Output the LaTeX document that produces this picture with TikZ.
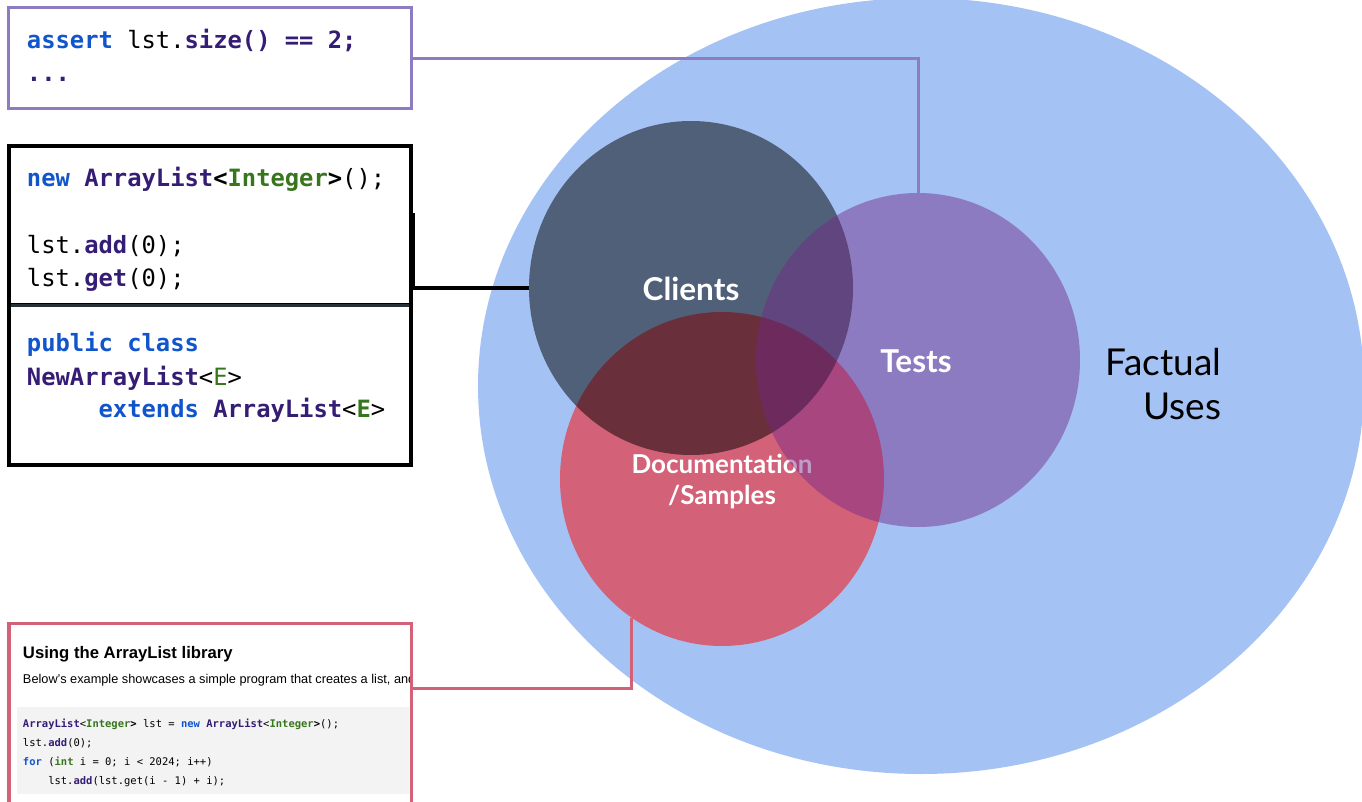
\documentclass[tikz,border=0pt]{standalone}
\usepackage{fontspec}
\usetikzlibrary{shapes.geometric}

\newfontfamily\codefont{DejaVu Sans Mono}
\newfontfamily\latofont{Lato}
\newfontfamily\docfont{Liberation Sans}

\definecolor{usesblue}{RGB}{164,194,244}
\definecolor{testpurple}{RGB}{142,124,195}
\definecolor{testtint}{RGB}{115,38,135}
\definecolor{docred}{RGB}{211,98,121}
\definecolor{kwblue}{RGB}{17,85,204}
\definecolor{typurple}{RGB}{53,28,117}
\definecolor{gngreen}{RGB}{56,118,29}
\definecolor{dividerslate}{RGB}{38,50,56}
\definecolor{codebg}{RGB}{243,243,243}

% syntax colouring helpers
\newcommand{\kw}[1]{\textcolor{kwblue}{\bfseries #1}}
\newcommand{\ty}[1]{\textcolor{typurple}{\bfseries #1}}
\newcommand{\gn}[1]{\textcolor{gngreen}{\bfseries #1}}
\newcommand{\bk}[1]{{\bfseries #1}}

\begin{document}
\begin{tikzpicture}[x=1pt,y=-1pt,
  every node/.style={inner sep=0pt, outer sep=0pt},
  bigcode/.style={font=\codefont\fontsize{23.8}{33}\selectfont, anchor=base west},
  smallcode/.style={font=\codefont\fontsize{10.5}{19}\selectfont, anchor=base west},
  venn/.style={ellipse, minimum width=324pt, minimum height=334pt, draw=none},
  vennlabel/.style={font=\latofont\bfseries\fontsize{31.5}{37}\selectfont, text=white, anchor=base},
  doclabel/.style={font=\latofont\bfseries\fontsize{26}{31}\selectfont, text=white, anchor=base},
  factlabel/.style={font=\latofont\fontsize{37}{44}\selectfont, text=black, anchor=base east},
  panel/.style={rectangle, fill=white},
  link/.style={line width=3pt, line join=miter},
]
\useasboundingbox (0,0) rectangle (1362,802);
\fill[white] (0,0) rectangle (1362,802);

% field of factual uses
\node[ellipse, fill=usesblue, minimum width=886pt, minimum height=776pt] (uses) at (921,386) {};
\node[factlabel] (factual) at (1221,375) {Factual};
\node[factlabel] (usesword) at (1221,419) {Uses};

% the three overlapping kinds of use
\node[venn, fill=docred] (docs) at (722,479) {};
\node[venn, fill=black, fill opacity=0.5] (clients) at (691,288) {};
\node[vennlabel] (clientslabel) at (691,300) {Clients};
\node[doclabel] (doclabelA) at (722,473) {Documentation};
\node[doclabel] (doclabelB) at (722,504) {/Samples};
\node[venn, fill=testtint, fill opacity=0.45] (tests) at (918,360) {};
\node[vennlabel] (testslabel) at (916,372) {Tests};

% test snippet
\node[panel, draw=testpurple, line width=3pt, minimum width=403.3pt, minimum height=101pt] (assertbox) at (210.3,58.2) {};
\node[bigcode] (assertA) at (27,49) {\kw{assert} lst.\ty{size() == 2;}};
\node[bigcode] (assertB) at (27,81.7) {\ty{...}};

% client snippet and subclass snippet
\node[panel, draw=black, line width=4pt, minimum width=402pt, minimum height=159.6pt] (usagebox) at (210.3,225.5) {};
\node[panel, draw=black, line width=4pt, minimum width=402pt, minimum height=159.7pt] (classbox) at (210.3,385.2) {};
\draw[dividerslate, line width=3pt] ([xshift=2pt]usagebox.south west) -- ([xshift=-2pt]usagebox.south east);

\node[bigcode] (usageA) at (27,186.5) {\kw{new} \ty{ArrayList}\bk{<}\gn{Integer}\bk{>}();};
\node[bigcode] (usageB) at (27,254) {lst.\ty{add}(0);};
\node[bigcode] (usageC) at (27,287) {lst.\ty{get}(0);};

\node[bigcode] (classA) at (27,351.7) {\kw{public class}};
\node[bigcode] (classB) at (27,385) {\ty{NewArrayList}<\textcolor{gngreen}{E}>};
\node[bigcode] (classC) at (27,417.7) {\hphantom{00000}\kw{extends} \ty{ArrayList}<\gn{E}>};

% documentation page
\node[panel, draw=docred, line width=3.5pt, minimum width=402.3pt, minimum height=276pt] (docbox) at (210.2,761.7) {};
\begin{scope}
  \clip (10.8,625.5) rectangle (409.5,802);
  \fill[codebg] (17,707) rectangle (412,794);
  \node[font=\docfont\bfseries\fontsize{16.7}{20}\selectfont, anchor=base west] (doctitle) at (23,658) {Using the ArrayList library};
  \node[font=\docfont\fontsize{12.75}{15}\selectfont, anchor=base west] (docpara) at (23,683) {Below’s example showcases a simple program that creates a list, and};
  \node[smallcode] (sampleA) at (23,727) {\ty{ArrayList}<\gn{Integer}\bk{>} lst = \kw{new} \ty{ArrayList}<\gn{Integer}\bk{>}();};
  \node[smallcode] (sampleB) at (23,746.5) {lst.\ty{add}(0);};
  \node[smallcode] (sampleC) at (23,765.5) {\kw{for} (\gn{int} i = 0; i < 2024; i++)};
  \node[smallcode] (sampleD) at (23,784.5) {\hphantom{0000}lst.\ty{add}(lst.get(i - 1) + i);};
\end{scope}

% connectors from snippets to their circles
\coordinate (usagejoin) at (413,213);
\coordinate (docjoin) at (411.3,688);
\draw[link, draw=testpurple] (assertbox.east) -| (tests.north);
\draw[link, draw=black, line width=3.5pt] (usagejoin) |- (clients.west);
\draw[link, draw=docred] (docjoin) -| (docs.237);
\end{tikzpicture}
\end{document}
